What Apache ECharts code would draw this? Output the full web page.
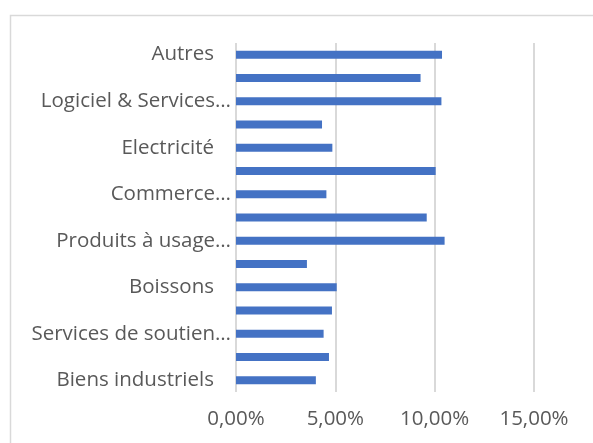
<!DOCTYPE html>
<html>
<head>
<meta charset="utf-8">
<script src="https://cdn.jsdelivr.net/npm/echarts@6/dist/echarts.min.js"></script>
<style>
  html, body { margin: 0; padding: 0; background: #fff; }
  #chart { width: 593px; height: 443px; }
</style>
</head>
<body>
<div id="chart"></div>
<script>
// categories from bottom to top (every other label is hidden by the axis)
const categories = [
  "Biens industriels", "Banques", "Services de soutien…", "Assurances",
  "Boissons", "Chimie", "Produits à usage…", "Pharmacie",
  "Commerce…", "Télécommunications", "Electricité", "Automobiles",
  "Logiciel & Services…", "Immobilier", "Autres"
];
// share in percent
const values = [
  4.02, 4.68, 4.41, 4.83,
  5.07, 3.57, 10.5, 9.6,
  4.55, 10.05, 4.85, 4.33,
  10.34, 9.29, 10.37
];
const tickMin = 0;
const tickMax = 15;
const tickStep = 5;

const chart = echarts.init(document.getElementById("chart"));
const textColor = "#595959";
const gridColor = "#d9d9d9";
const fontSize = 20.5;

const option = {
  animation: false,
  textStyle: { fontFamily: "Open Sans" },
  graphic: [
    {
      type: "rect",
      left: 8,
      top: 13,
      shape: { width: 700, height: 600 },
      style: { fill: "none", stroke: gridColor, lineWidth: 1.5 }
    }
  ],
  grid: {
    left: 236,
    right: 59,
    top: 43,
    bottom: 51,
    containLabel: false
  },
  xAxis: {
    type: "value",
    min: tickMin,
    max: tickMax,
    interval: tickStep,
    axisLine: { show: false },
    axisTick: { show: false },
    splitLine: {
      show: true,
      lineStyle: { color: gridColor, width: 2 }
    },
    axisLabel: {
      color: textColor,
      fontSize: fontSize,
      margin: 17,
      formatter: v => v.toFixed(2).replace(".", ",") + "%"
    }
  },
  yAxis: {
    type: "category",
    data: categories,
    axisLine: { show: false },
    axisTick: { show: false },
    axisLabel: {
      interval: 1,
      color: textColor,
      fontSize: fontSize,
      margin: 5,
      formatter: v => (v.endsWith("…") ? "{e|" + v + "}" : "{p|" + v + "}"),
      rich: {
        e: { color: textColor, fontSize: fontSize },
        p: { color: textColor, fontSize: fontSize, padding: [0, 17, 0, 0] }
      }
    }
  },
  series: {
    type: "bar",
    data: values,
    barWidth: 8,
    itemStyle: { color: "#4472c4" }
  }
};
chart.setOption(option);
</script>
</body>
</html>
